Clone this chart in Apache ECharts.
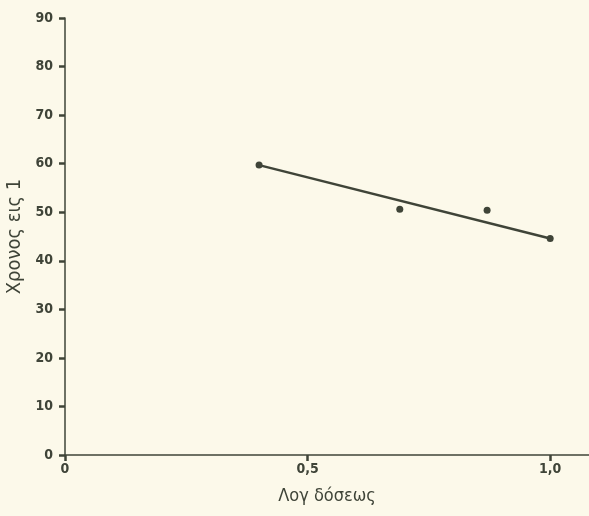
<!DOCTYPE html>
<html>
<head>
<meta charset="utf-8">
<script src="https://cdn.jsdelivr.net/npm/echarts@6/dist/echarts.min.js"></script>
<style>
  html, body { margin: 0; padding: 0; background: #fcf9ea; }
  #chart { width: 589px; height: 516px; }
</style>
</head>
<body>
<div id="chart"></div>
<script>
// values
const yTicks = [0, 10, 20, 30, 40, 50, 60, 70, 80, 90];
const xTickLabels = { 0: '0', 0.5: '0,5', 1: '1,0' };
const fitLine = [[0.4, 59.7], [1.0, 44.6]];
const points = [[0.69, 50.6], [0.87, 50.4]];

const ink = '#3f4438';
const font = 'DejaVu Sans Condensed';

const chart = echarts.init(document.getElementById('chart'));

chart.setOption({
  backgroundColor: '#fcf9ea',
  animation: false,
  grid: { left: 65, right: 0, top: 18, bottom: 61, outerBoundsMode: 'none', containLabel: false },
  xAxis: {
    type: 'value',
    min: 0,
    max: 1.08,
    interval: 0.5,
    name: 'Λογ δόσεως',
    nameLocation: 'middle',
    nameGap: 32,
    nameTextStyle: { color: ink, fontFamily: font, fontSize: 18 },
    axisLine: { lineStyle: { color: ink, width: 1.5 } },
    axisTick: { length: 6, lineStyle: { color: ink, width: 2.5 } },
    axisLabel: {
      color: ink, fontFamily: font, fontSize: 14, fontWeight: 'bold',
      margin: 7, showMaxLabel: false,
      formatter: v => xTickLabels[v] !== undefined ? xTickLabels[v] : ''
    },
    splitLine: { show: false }
  },
  yAxis: {
    type: 'value',
    min: yTicks[0],
    max: yTicks[yTicks.length - 1],
    interval: 10,
    name: 'Χρονος εις 1',
    nameLocation: 'middle',
    nameGap: 33,
    nameRotate: 90,
    nameTextStyle: { color: ink, fontFamily: font, fontSize: 20 },
    axisLine: { show: true, lineStyle: { color: ink, width: 1.5 } },
    axisTick: { show: true, length: 6, lineStyle: { color: ink, width: 2.5 } },
    axisLabel: { color: ink, fontFamily: font, fontSize: 14, fontWeight: 'bold', margin: 12 },
    splitLine: { show: false }
  },
  series: [
    {
      type: 'line',
      data: fitLine,
      symbol: 'circle',
      symbolSize: 7,
      itemStyle: { color: ink },
      lineStyle: { color: ink, width: 2.5 }
    },
    {
      type: 'scatter',
      data: points,
      symbol: 'circle',
      symbolSize: 7,
      itemStyle: { color: ink, opacity: 1 }
    }
  ]
});
</script>
</body>
</html>
